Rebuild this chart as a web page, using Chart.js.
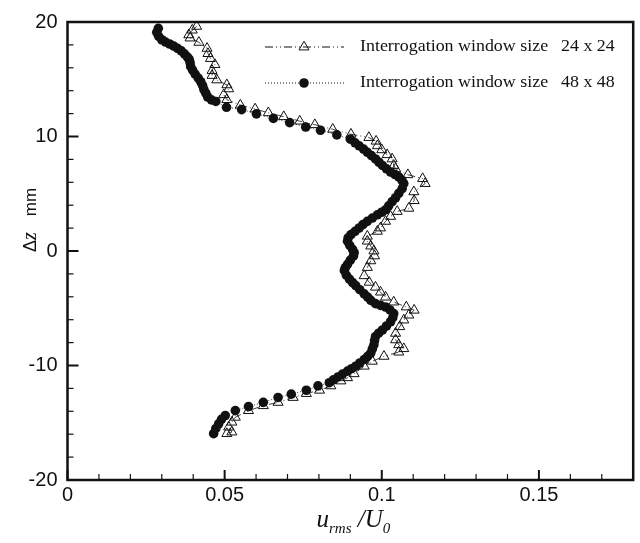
<!DOCTYPE html>
<html>
<head>
<meta charset="utf-8">
<title>u_rms / U0 profile</title>
<script src="https://cdn.jsdelivr.net/npm/chart.js@4.4.1/dist/chart.umd.min.js"></script>
<style>
    html, body { margin: 0; padding: 0; background: #fff; }
    #wrap { width: 640px; height: 543px; position: relative; }
</style>
</head>
<body>
<div id="wrap"><canvas id="profileChart"></canvas></div>
<script>
// Interrogation window 24 x 24 (open triangles)
const triU = [
    0.0411, 0.0397, 0.0386, 0.0390, 0.0418, 0.0444, 0.0447, 0.0455, 0.0469, 0.0460,
    0.0460, 0.0475, 0.0507, 0.0513, 0.0497, 0.0507, 0.0550, 0.0597, 0.0639, 0.0688,
    0.0739, 0.0787, 0.0844, 0.0902, 0.0959, 0.0982, 0.0986, 0.1000, 0.1017, 0.1033,
    0.1038, 0.1044, 0.1083, 0.1130, 0.1138, 0.1102, 0.1103, 0.1086, 0.1049, 0.1028,
    0.1012, 0.0996, 0.0986, 0.0954, 0.0954, 0.0965, 0.0975, 0.0977, 0.0965, 0.0954,
    0.0944, 0.0960, 0.0980, 0.0996, 0.1012, 0.1038, 0.1078, 0.1103, 0.1086, 0.1070,
    0.1057, 0.1044, 0.1044, 0.1054, 0.1070, 0.1054, 0.1007, 0.0970, 0.0944, 0.0912,
    0.0891, 0.0870, 0.0838, 0.0802, 0.0760, 0.0718, 0.0670, 0.0623, 0.0576, 0.0534,
    0.0523, 0.0513, 0.0523, 0.0507
];
const triZ = [
    19.62, 19.29, 18.88, 18.60, 18.22, 17.70, 17.24, 16.81, 16.28, 15.76,
    15.33, 14.94, 14.51, 14.16, 13.65, 13.22, 12.74, 12.40, 12.07, 11.73,
    11.34, 11.03, 10.63, 10.20, 9.91, 9.59, 9.19, 8.84, 8.41, 8.04,
    7.47, 7.18, 6.66, 6.32, 5.89, 5.17, 4.40, 3.73, 3.45, 3.02,
    2.59, 2.01, 1.72, 1.29, 0.86, 0.43, 0.00, -0.43, -0.86, -1.44,
    -2.16, -2.73, -3.16, -3.59, -4.03, -4.46, -4.89, -5.17, -5.60, -6.03,
    -6.61, -7.19, -7.76, -8.19, -8.53, -8.83, -9.20, -9.63, -10.06, -10.72,
    -11.07, -11.35, -11.78, -12.16, -12.45, -12.79, -13.22, -13.51, -13.94, -14.52,
    -14.95, -15.38, -15.81, -15.95
];

// Interrogation window 48 x 48 (filled circles)
const circU = [
    0.0289, 0.0284, 0.0290, 0.0300, 0.0312, 0.0325, 0.0338, 0.0350, 0.0362, 0.0372,
    0.0381, 0.0387, 0.0390, 0.0392, 0.0398, 0.0406, 0.0416, 0.0424, 0.0430, 0.0434,
    0.0440, 0.0446, 0.0458, 0.0472, 0.0506, 0.0554, 0.0601, 0.0655, 0.0707, 0.0758,
    0.0805, 0.0857, 0.0900, 0.0915, 0.0928, 0.0942, 0.0954, 0.0967, 0.0980, 0.0991,
    0.1002, 0.1015, 0.1028, 0.1042, 0.1054, 0.1064, 0.1070, 0.1065, 0.1054, 0.1044,
    0.1033, 0.1022, 0.1012, 0.0999, 0.0986, 0.0970, 0.0954, 0.0940, 0.0928, 0.0915,
    0.0902, 0.0893, 0.0891, 0.0898, 0.0907, 0.0912, 0.0910, 0.0900, 0.0891, 0.0884,
    0.0881, 0.0887, 0.0897, 0.0907, 0.0917, 0.0930, 0.0944, 0.0955, 0.0965, 0.0980,
    0.0996, 0.1012, 0.1026, 0.1038, 0.1035, 0.1028, 0.1015, 0.1002, 0.0990, 0.0980,
    0.0977, 0.0975, 0.0970, 0.0965, 0.0955, 0.0944, 0.0930, 0.0917, 0.0904, 0.0891,
    0.0875, 0.0860, 0.0846, 0.0833, 0.0797, 0.0760, 0.0712, 0.0670, 0.0623, 0.0576,
    0.0534, 0.0502, 0.0490, 0.0481, 0.0472, 0.0465
];
const circZ = [
    19.45, 19.10, 18.75, 18.45, 18.25, 18.08, 17.90, 17.70, 17.48, 17.22,
    16.95, 16.75, 16.45, 16.10, 15.80, 15.45, 15.10, 14.78, 14.45, 14.10,
    13.78, 13.45, 13.20, 13.06, 12.55, 12.35, 11.98, 11.58, 11.21, 10.83,
    10.54, 10.14, 9.77, 9.45, 9.19, 8.90, 8.62, 8.33, 8.04, 7.75,
    7.47, 7.18, 6.90, 6.68, 6.47, 6.18, 5.89, 5.45, 5.03, 4.65,
    4.31, 3.95, 3.59, 3.38, 3.16, 2.88, 2.59, 2.30, 2.01, 1.72,
    1.43, 1.15, 0.86, 0.50, 0.14, -0.15, -0.43, -0.80, -1.16, -1.45,
    -1.72, -2.10, -2.45, -2.75, -3.02, -3.38, -3.74, -4.02, -4.31, -4.60,
    -4.75, -4.89, -5.15, -5.47, -5.82, -6.18, -6.55, -6.90, -7.18, -7.47,
    -7.83, -8.19, -8.55, -8.91, -9.20, -9.48, -9.78, -10.06, -10.28, -10.49,
    -10.75, -11.01, -11.25, -11.50, -11.78, -12.16, -12.50, -12.79, -13.22, -13.59,
    -13.94, -14.37, -14.70, -15.09, -15.50, -15.95
];

// Axis ticks
const xTickValues = [0, 0.05, 0.1, 0.15];
const yTickValues = [-20, -10, 0, 10, 20];
const xTickLabels = ['0', '0.05', '0.1', '0.15'];
const yTickLabels = ['-20', '-10', '0', '10', '20'];
const xMinorTicks = [0.01, 0.02, 0.03, 0.04, 0.06, 0.07, 0.08, 0.09, 0.11, 0.12, 0.13, 0.14, 0.16, 0.17];
const yMinorTicks = [-18, -16, -14, -12, -8, -6, -4, -2, 2, 4, 6, 8, 12, 14, 16, 18];

const legendLabels = ['Interrogation window size', 'Interrogation window size'];
const legendSizes = ['24 x 24', '48 x 48'];

const INK = '#111';

function toPoints(xs, ys) {
    return xs.map((x, i) => ({ x: x, y: ys[i] }));
}

// frame with inward tick marks
const frameTicks = {
    id: 'frameTicks',
    afterDraw(chart) {
        const { ctx, chartArea: a, scales: { x, y } } = chart;
        ctx.save();
        ctx.strokeStyle = INK;
        ctx.lineCap = 'butt';

        const tick = (px, py, dx, dy, w) => {
            ctx.lineWidth = w;
            ctx.beginPath();
            ctx.moveTo(px, py);
            ctx.lineTo(px + dx, py + dy);
            ctx.stroke();
        };
        xTickValues.forEach(v => tick(x.getPixelForValue(v), a.bottom, 0, -10, 2));
        xMinorTicks.forEach(v => tick(x.getPixelForValue(v), a.bottom, 0, -6, 1.2));
        yTickValues.forEach(v => tick(a.left, y.getPixelForValue(v), 11, 0, 2));
        yMinorTicks.forEach(v => tick(a.left, y.getPixelForValue(v), 6, 0, 1.2));

        ctx.lineWidth = 2.5;
        ctx.strokeRect(a.left, a.top, a.right - a.left, a.bottom - a.top);
        ctx.restore();
    }
};

// axis titles with sub-scripts
const axisTitles = {
    id: 'axisTitles',
    afterDraw(chart) {
        const { ctx, chartArea: a } = chart;
        ctx.save();
        ctx.fillStyle = INK;
        ctx.textBaseline = 'alphabetic';

        // x title: u_rms / U_0
        const cx = (a.left + a.right) / 2 + 3;
        const base = 527;
        const parts = [
            { t: 'u', f: 'italic 25px "Liberation Serif"', dy: 0 },
            { t: 'rms', f: 'italic 15px "Liberation Serif"', dy: 6 },
            { t: ' /', f: 'italic 25px "Liberation Serif"', dy: 0 },
            { t: 'U', f: 'italic 25px "Liberation Serif"', dy: 0 },
            { t: '0', f: 'italic 15px "Liberation Serif"', dy: 6 }
        ];
        let total = 0;
        parts.forEach(p => { ctx.font = p.f; p.w = ctx.measureText(p.t).width; total += p.w; });
        let px = cx - total / 2;
        parts.forEach(p => {
            ctx.font = p.f;
            ctx.fillText(p.t, px, base + p.dy);
            px += p.w;
        });

        // y title: Δz   mm (rotated)
        ctx.translate(36, 252);
        ctx.rotate(-Math.PI / 2);
        ctx.font = '18px "Liberation Sans"';
        ctx.fillText('\u0394', 0, 0);
        let off = ctx.measureText('\u0394').width;
        ctx.font = 'italic 20px "Liberation Serif"';
        ctx.fillText('z', off, 0);
        off += ctx.measureText('z').width + 16;
        ctx.font = '17px "Liberation Sans"';
        ctx.fillText('mm', off, 0);
        ctx.restore();
    }
};

// legend in upper right corner
const customLegend = {
    id: 'customLegend',
    afterDraw(chart) {
        const { ctx } = chart;
        const rows = [
            { y: 47, dash: [8, 3, 1, 3, 1, 3], ds: chart.data.datasets[0] },
            { y: 83, dash: [1, 2], ds: chart.data.datasets[1] }
        ];
        ctx.save();
        rows.forEach((r, i) => {
            ctx.strokeStyle = INK;
            ctx.lineWidth = 1;
            ctx.setLineDash(r.dash);
            ctx.beginPath();
            ctx.moveTo(265, r.y);
            ctx.lineTo(344, r.y);
            ctx.stroke();
            ctx.setLineDash([]);
            ctx.fillStyle = r.ds.pointBackgroundColor;
            ctx.strokeStyle = r.ds.pointBorderColor;
            ctx.lineWidth = r.ds.pointBorderWidth;
            Chart.helpers.drawPoint(ctx, {
                pointStyle: r.ds.pointStyle,
                radius: r.ds.pointRadius,
                rotation: 0,
                borderWidth: r.ds.pointBorderWidth
            }, 304, r.y);

            // serif text, slightly widened like the original
            ctx.fillStyle = INK;
            ctx.font = '16px "Liberation Serif"';
            ctx.textBaseline = 'middle';
            ctx.save();
            ctx.translate(360, r.y);
            ctx.scale(1.12, 1);
            ctx.fillText(legendLabels[i], 0, 0);
            ctx.fillText(legendSizes[i], (561 - 360) / 1.12, 0);
            ctx.restore();
        });
        ctx.restore();
    }
};

document.addEventListener('DOMContentLoaded', function() {
    const ctx = document.getElementById('profileChart').getContext('2d');

    new Chart(ctx, {
        type: 'scatter',
        data: {
            datasets: [{
                label: 'Interrogation window size 24 x 24',
                data: toPoints(triU, triZ),
                showLine: true,
                borderColor: INK,
                borderWidth: 0.8,
                borderDash: [8, 3, 1, 3, 1, 3],
                pointStyle: 'triangle',
                pointRadius: 5.8,
                pointBorderWidth: 1,
                pointBorderColor: INK,
                pointBackgroundColor: 'rgba(0,0,0,0)',
                order: 1
            }, {
                label: 'Interrogation window size 48 x 48',
                data: toPoints(circU, circZ),
                showLine: true,
                borderColor: INK,
                borderWidth: 0.8,
                borderDash: [1, 2],
                pointStyle: 'circle',
                pointRadius: 4.8,
                pointBorderWidth: 0,
                pointBorderColor: INK,
                pointBackgroundColor: INK,
                order: 0
            }]
        },
        options: {
            responsive: true,
            maintainAspectRatio: false,
            animation: false,
            events: [],
            layout: { padding: { top: 16, right: 2, left: 0, bottom: 0 } },
            plugins: {
                legend: { display: false },
                tooltip: { enabled: false }
            },
            scales: {
                x: {
                    type: 'linear',
                    min: 0,
                    max: 0.18,
                    afterBuildTicks: s => { s.ticks = xTickValues.map(v => ({ value: v })); },
                    afterFit: s => { s.height = 63; },
                    grid: { display: false, drawTicks: false },
                    border: { display: false },
                    ticks: {
                        autoSkip: false,
                        maxRotation: 0,
                        padding: 3,
                        color: INK,
                        font: { family: '"Liberation Sans"', size: 20 },
                        callback: (v, i) => xTickLabels[i]
                    }
                },
                y: {
                    type: 'linear',
                    min: -20,
                    max: 20,
                    afterBuildTicks: s => { s.ticks = yTickValues.map(v => ({ value: v })); },
                    afterFit: s => { s.width = 67.5; },
                    grid: { display: false, drawTicks: false },
                    border: { display: false },
                    ticks: {
                        autoSkip: false,
                        padding: 10,
                        color: INK,
                        font: { family: '"Liberation Sans"', size: 20 },
                        callback: (v, i) => yTickLabels[i]
                    }
                }
            }
        },
        plugins: [frameTicks, axisTitles, customLegend]
    });
});
</script>
</body>
</html>
